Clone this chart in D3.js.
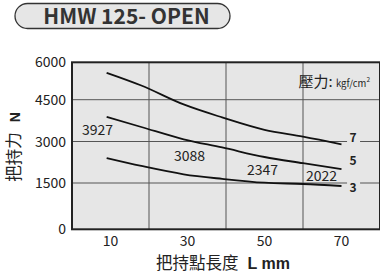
<!DOCTYPE html>
<html>
<head>
<meta charset="utf-8">
<script src="https://cdnjs.cloudflare.com/ajax/libs/d3/7.8.5/d3.min.js"></script>
<style>
  body { margin: 0; background: #fff; }
  svg { display: block; font-family: "Noto Sans CJK TC", "Noto Sans", sans-serif; }
</style>
</head>
<body>
<svg id="chart" width="380" height="274"></svg>
<script>
// chart data
var title = "HMW 125- OPEN";
var lengths = [9, 18, 29, 39, 50, 60, 70];
var force7 = [5580, 5070, 4330, 3865, 3420, 3175, 2900];
var force5 = [3880, 3520, 3080, 2785, 2440, 2215, 2000];
var force3 = [2400, 2115, 1815, 1650, 1510, 1468, 1403];
var pressures = ["7", "5", "3"];
var xTicks = [10, 30, 50, 70];
var xGrid = [20, 40, 60];
var yTicks = [0, 1500, 3000, 4500, 6000];
var labelAt = [10, 30, 50, 70];
var labelValues = [3927, 3088, 2347, 2022];

var svg = d3.select("#chart");

// plot box
var boxL = 72, boxR = 380, boxT = 62.3, boxB = 229.3;

var x = d3.scaleLinear().domain([0, 80]).range([boxL, boxR]);
// the printed grid is not evenly spaced, so map each tick to its own line
var y = d3.scaleLinear().domain(yTicks).range([boxB, 183, 141.5, 99.7, boxT]);

// title pill
svg.append("rect")
  .attr("x", 15).attr("y", 3.5)
  .attr("width", 215).attr("height", 25)
  .attr("rx", 12.5)
  .style("fill", "#e6e6e6")
  .style("stroke", "#333")
  .style("stroke-width", 1.3);
svg.append("text")
  .attr("x", 126.5).attr("y", 24)
  .attr("text-anchor", "middle")
  .style("font-size", "21px")
  .style("font-weight", "bold")
  .style("fill", "#333")
  .text(title);

// background
svg.append("rect")
  .attr("x", boxL).attr("y", boxT)
  .attr("width", boxR - boxL).attr("height", boxB - boxT)
  .style("fill", "#e6e6e6");

// grid
svg.selectAll("line.hgrid")
  .data(yTicks.slice(1, -1))
  .enter().append("line")
  .attr("class", "hgrid")
  .attr("x1", boxL).attr("x2", boxR)
  .attr("y1", d => y(d)).attr("y2", d => y(d))
  .style("stroke", "#555").style("stroke-width", 1);

svg.selectAll("line.vgrid")
  .data(xGrid)
  .enter().append("line")
  .attr("class", "vgrid")
  .attr("x1", d => x(d)).attr("x2", d => x(d))
  .attr("y1", boxT).attr("y2", boxB)
  .style("stroke", "#555").style("stroke-width", 1);

// frame
svg.append("rect")
  .attr("x", boxL).attr("y", boxT)
  .attr("width", boxR - boxL).attr("height", boxB - boxT)
  .style("fill", "none")
  .style("stroke", "#222")
  .style("stroke-width", 2);

// tick labels
svg.selectAll("text.ytick")
  .data(yTicks)
  .enter().append("text")
  .attr("class", "ytick")
  .attr("x", boxL - 6)
  .attr("y", d => y(d) + 5)
  .attr("text-anchor", "end")
  .style("font-size", "14px")
  .style("fill", "#222")
  .text(d => d);

svg.selectAll("text.xtick")
  .data(xTicks)
  .enter().append("text")
  .attr("class", "xtick")
  .attr("x", d => x(d))
  .attr("y", boxB + 17)
  .attr("text-anchor", "middle")
  .style("font-size", "14px")
  .style("fill", "#222")
  .text(d => d);

// axis titles
var xt = svg.append("text")
  .attr("x", 223).attr("y", 269)
  .attr("text-anchor", "middle")
  .style("font-size", "16.5px")
  .style("fill", "#222");
xt.append("tspan").text("把持點長度");
xt.append("tspan")
  .attr("dx", 9)
  .style("font-family", "'Liberation Sans', Arial, sans-serif")
  .style("font-weight", "bold")
  .style("font-size", "16px")
  .text("L  mm");

var yt = svg.append("text")
  .attr("transform", "translate(20,147) rotate(-90)")
  .attr("text-anchor", "middle")
  .style("font-size", "16.5px")
  .style("fill", "#222");
yt.append("tspan").text("把持力");
yt.append("tspan")
  .attr("dx", 10)
  .style("font-family", "'Liberation Sans', Arial, sans-serif")
  .style("font-weight", "bold")
  .style("font-size", "14px")
  .text("N");

// pressure note
var pt = svg.append("text")
  .attr("x", 370).attr("y", 87)
  .attr("text-anchor", "end")
  .style("fill", "#222");
pt.append("tspan").style("font-size", "15px").text("壓力: ");
pt.append("tspan").style("font-size", "9.5px").text("kgf/cm");
pt.append("tspan").attr("dy", -5).style("font-size", "6.5px").text("2");

// curves
var series = [force7, force5, force3];
var line = d3.line()
  .x((d, i) => x(lengths[i]))
  .y(d => y(d))
  .curve(d3.curveMonotoneX);

svg.selectAll("path.curve")
  .data(series)
  .enter().append("path")
  .attr("class", "curve")
  .attr("d", line)
  .style("fill", "none")
  .style("stroke", "#111")
  .style("stroke-width", 1.8);

// curve end labels on a patch of background
var endY = [138.5, 161.5, 188.5];
pressures.forEach(function (p, i) {
  svg.append("rect")
    .attr("x", x(73) - 6).attr("y", endY[i] - 9)
    .attr("width", 13).attr("height", 13)
    .style("fill", "#e6e6e6");
  svg.append("text")
    .attr("x", x(73)).attr("y", endY[i] + 3.5)
    .attr("text-anchor", "middle")
    .style("font-size", "12px")
    .style("font-weight", "bold")
    .style("fill", "#222")
    .text(p);
});

function interp(vals, at) {
  for (var i = 1; i < lengths.length; i++) {
    if (at <= lengths[i]) {
      var t = (at - lengths[i - 1]) / (lengths[i] - lengths[i - 1]);
      return vals[i - 1] + t * (vals[i] - vals[i - 1]);
    }
  }
  return vals[vals.length - 1];
}

// values for the 5 kgf/cm2 curve
var labelDx = [-13, 2, -2, -20];
var labelDy = [17, 21, 18, 12];
svg.selectAll("text.val")
  .data(labelValues)
  .enter().append("text")
  .attr("class", "val")
  .attr("x", (d, i) => x(labelAt[i]) + labelDx[i])
  .attr("y", (d, i) => y(interp(force5, labelAt[i])) + labelDy[i])
  .attr("text-anchor", "middle")
  .style("font-size", "14px")
  .style("fill", "#222")
  .text(d => d);
</script>
</body>
</html>
